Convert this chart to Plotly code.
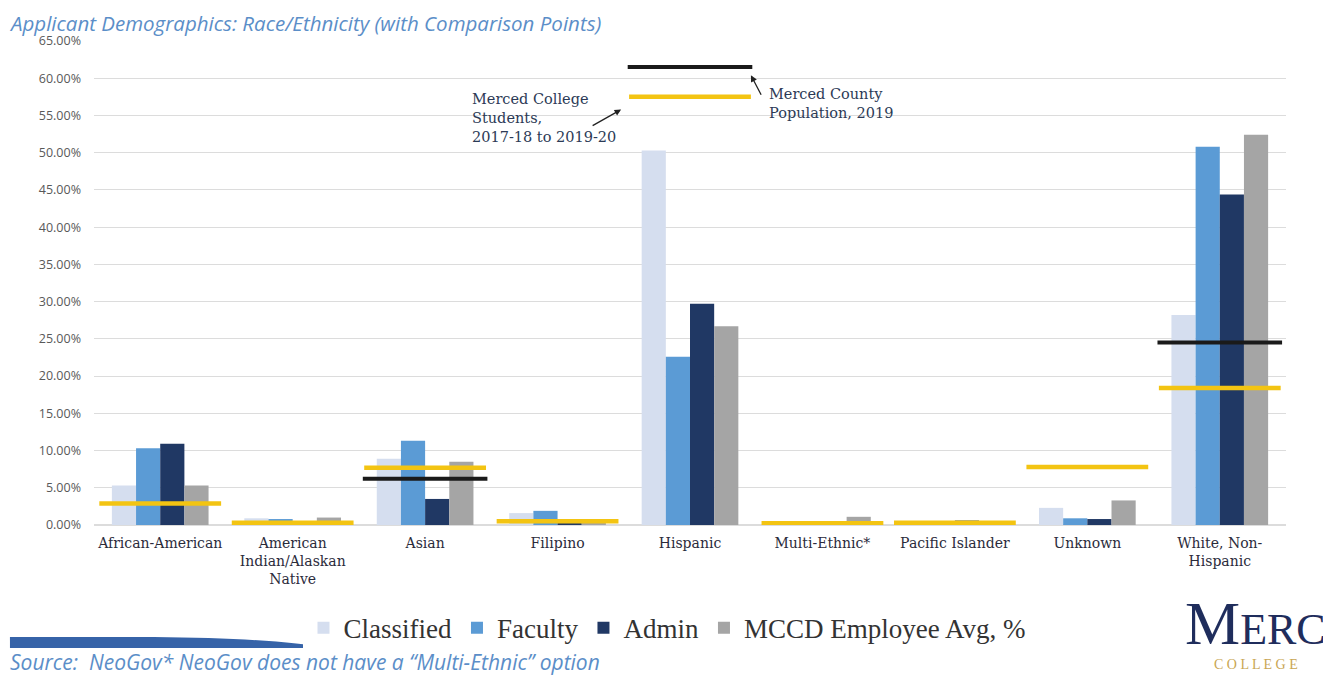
import plotly.graph_objects as go

categories = ["African-American", "American<br>Indian/Alaskan<br>Native", "Asian", "Filipino",
              "Hispanic", "Multi-Ethnic*", "Pacific Islander", "Unknown", "White, Non-<br>Hispanic"]
classified = [5.3, 0.9, 8.9, 1.6, 50.3, 0.0, 0.5, 2.3, 28.2]
faculty = [10.3, 0.8, 11.3, 1.9, 22.6, 0.0, 0.5, 0.9, 50.8]
admin = [10.9, 0.3, 3.5, 0.2, 29.7, 0.0, 0.6, 0.8, 44.4]
mccd_avg = [5.3, 1.0, 8.5, 0.4, 26.7, 1.1, 0.5, 3.3, 52.4]
students = [2.9, 0.3, 7.7, 0.5, 57.5, 0.25, 0.3, 7.8, 18.4]
county = [None, None, 6.2, None, 61.5, None, None, None, 24.5]
y_ticks = [i * 5 for i in range(14)]

SERIF = "Liberation Serif, DejaVu Serif, serif"
WSERIF = "DejaVu Serif, serif"
SANS = "Open Sans, Lato, sans-serif"

fig = go.Figure()
series = [("Classified", classified, "#d5deef"),
          ("Faculty", faculty, "#5b9bd5"),
          ("Admin", admin, "#203864"),
          ("MCCD Employee Avg, %", mccd_avg, "#a5a5a5")]
for name, vals, col in series:
    fig.add_trace(go.Bar(x=categories, y=vals, name=name, marker=dict(color=col, line=dict(width=0))))

fig.add_trace(go.Scatter(x=categories, y=county, mode="markers", showlegend=False, hoverinfo="skip",
                         marker=dict(symbol="line-ew", size=89, color="#1a1a1a",
                                     line=dict(width=4, color="#1a1a1a"))))
fig.add_trace(go.Scatter(x=categories, y=students, mode="markers", showlegend=False, hoverinfo="skip",
                         marker=dict(symbol="line-ew", size=87, color="#f3c412",
                                     line=dict(width=4.5, color="#f3c412"))))

ann_col = "#2c3a56"
annotations = [
    dict(text="Applicant Demographics: Race/Ethnicity (with Comparison Points)", xref="paper", yref="paper",
         x=-0.0722, y=1.0682, xanchor="left", yanchor="top", showarrow=False, borderpad=0,
         font=dict(family=SANS, size=20.5, color="#5b8ec8", style="italic")),
    dict(text="Source:  NeoGov* NeoGov does not have a \u201cMulti-Ethnic\u201d option", xref="paper", yref="paper",
         x=-0.0722, y=-0.283, xanchor="left", yanchor="middle", showarrow=False,
         font=dict(family=SANS, size=21, color="#5b8ec8", style="italic")),
    dict(text="Merced College<br>Students,<br>2017-18 to 2019-20", xref="x", yref="y",
         x=2.34, y=54.6, xanchor="left", yanchor="middle", showarrow=False, align="left",
         font=dict(family=WSERIF, size=14.5, color=ann_col)),
    dict(text="Merced County<br>Population, 2019", xref="x", yref="y",
         x=4.58, y=56.6, xanchor="left", yanchor="middle", showarrow=False, align="left",
         font=dict(family=WSERIF, size=14.5, color=ann_col)),
    dict(text="", xref="x", yref="y", x=3.48, y=55.8, ax=-30, ay=17,
         showarrow=True, arrowhead=2, arrowsize=1, arrowwidth=1.3, arrowcolor="#222"),
    dict(text="", xref="x", yref="y", x=4.46, y=60.4, ax=11, ay=21,
         showarrow=True, arrowhead=2, arrowsize=1, arrowwidth=1.3, arrowcolor="#222"),
    dict(text="<span style='font-size:62px'>M</span>ERCED", xref="paper", yref="paper",
         x=0.9135, y=-0.203, xanchor="left", yanchor="middle", showarrow=False,
         font=dict(family=SERIF, size=44, color="#1f2d5c")),
    dict(text="C O L L E G E", xref="paper", yref="paper",
         x=0.938, y=-0.289, xanchor="left", yanchor="middle", showarrow=False,
         font=dict(family=SERIF, size=14, color="#c9a653")),
]

shapes = [
    dict(type="path", xref="paper", yref="paper",
         path="M -0.0705,-0.2314 L 0.05,-0.2314 Q 0.15,-0.2335 0.198,-0.2542 L -0.0705,-0.2542 Z",
         fillcolor="#3663a8", line=dict(width=0)),
]

fig.update_layout(
    width=1323, height=667,
    margin=dict(l=86, r=45, t=33, b=150),
    plot_bgcolor="white", paper_bgcolor="white",
    barmode="group", bargap=0.27, bargroupgap=0,
    annotations=annotations, shapes=shapes,
    legend=dict(orientation="h", x=0.4807, xanchor="center", y=-0.213, yanchor="middle",
                font=dict(family=SERIF, size=27, color="#333333"), itemwidth=30, tracegroupgap=0),
    xaxis=dict(showgrid=False, showline=False, ticks="", automargin=False, ticklabelstandoff=8,
               range=[-0.5, len(categories) - 0.5],
               tickfont=dict(family=WSERIF, size=14, color="#2b2b3b")),
    yaxis=dict(range=[0, 65], tickvals=y_ticks, ticktext=[f"{v:.2f}%" for v in y_ticks],
               automargin=False, ticklabelstandoff=12,
               showgrid=True, gridcolor="#dcdcdc", gridwidth=1, zeroline=True, zerolinecolor="#dcdcdc",
               tickfont=dict(family=SANS, size=12.5, color="#595959")),
)

fig.write_html("out.html")
